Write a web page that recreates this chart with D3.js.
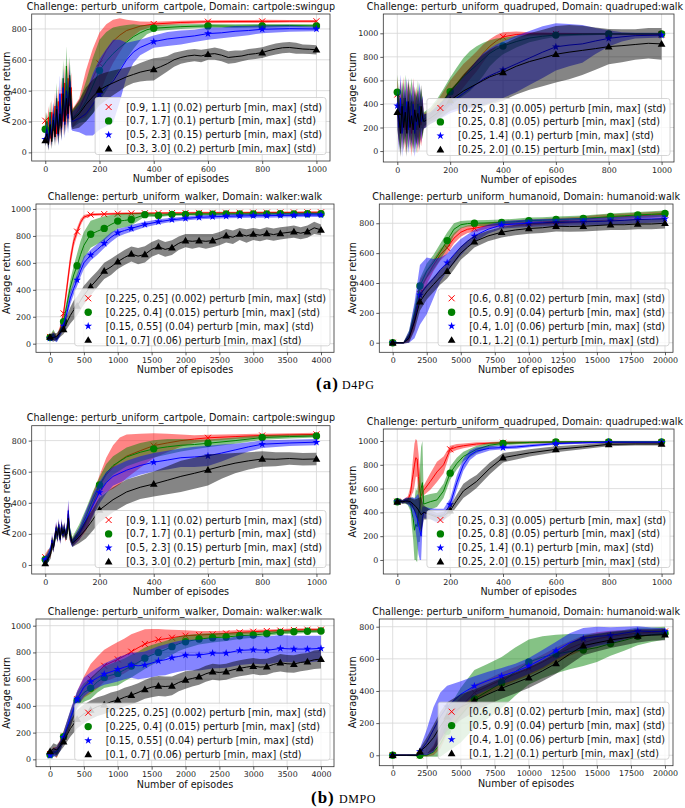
<!DOCTYPE html>
<html><head><meta charset="utf-8">
<script src="https://cdn.jsdelivr.net/npm/d3@7"></script>
<style>body{margin:0;background:#fff}</style>
</head><body><svg id="c" width="685" height="808" font-family="DejaVu Sans"></svg>
<script>
// ---------- tick labels / text ----------
const ticksX1000 = [0,200,400,600,800,1000];
const ticksX4000 = [0,500,1000,1500,2000,2500,3000,3500,4000];
const ticksX20000 = [0,2500,5000,7500,10000,12500,15000,17500,20000];
const ticksY800 = [0,200,400,600,800];
const ticksY1000 = [0,200,400,600,800,1000];
const titleCart = "Challenge: perturb_uniform_cartpole, Domain: cartpole:swingup";
const titleQuad = "Challenge: perturb_uniform_quadruped, Domain: quadruped:walk";
const titleWalker = "Challenge: perturb_uniform_walker, Domain: walker:walk";
const titleHum = "Challenge: perturb_uniform_humanoid, Domain: humanoid:walk";
const labelsCart = ["[0.9, 1.1] (0.02) perturb [min, max] (std)","[0.7, 1.7] (0.1) perturb [min, max] (std)","[0.5, 2.3] (0.15) perturb [min, max] (std)","[0.3, 3.0] (0.2) perturb [min, max] (std)"];
const labelsQuad = ["[0.25, 0.3] (0.005) perturb [min, max] (std)","[0.25, 0.8] (0.05) perturb [min, max] (std)","[0.25, 1.4] (0.1) perturb [min, max] (std)","[0.25, 2.0] (0.15) perturb [min, max] (std)"];
const labelsWalker = ["[0.225, 0.25] (0.002) perturb [min, max] (std)","[0.225, 0.4] (0.015) perturb [min, max] (std)","[0.15, 0.55] (0.04) perturb [min, max] (std)","[0.1, 0.7] (0.06) perturb [min, max] (std)"];
const labelsHum = ["[0.6, 0.8] (0.02) perturb [min, max] (std)","[0.5, 0.9] (0.04) perturb [min, max] (std)","[0.4, 1.0] (0.06) perturb [min, max] (std)","[0.1, 1.2] (0.1) perturb [min, max] (std)"];
const xLabel = "Number of episodes", yLabel = "Average return";
const captions = [["(a)","D4PG"],["(b)","DMPO"]];

// ---------- data: [episode, mean, std] ----------
// D4PG cartpole
const d4Cart_r = [[0,205,60],[6,110,50],[12,230,70],[18,90,50],[24,260,80],[30,140,60],[36,300,90],[42,120,60],[48,330,100],[54,170,80],[60,380,110],[66,200,90],[72,450,120],[78,240,100],[84,480,120],[90,300,110],[96,420,100],[100,220,60],[125,280,70],[150,380,150],[175,480,190],[200,577,200],[225,660,170],[250,720,140],[275,760,110],[300,790,70],[350,818,30],[400,832,15],[500,842,12],[600,847,10],[700,848,10],[800,849,10],[900,850,8],[1000,850,8]];
const d4Cart_g = [[0,150,50],[6,200,60],[12,100,50],[18,260,70],[24,110,60],[30,240,80],[36,150,70],[42,350,100],[48,130,70],[54,300,90],[60,200,80],[66,480,120],[72,230,100],[78,560,130],[84,280,110],[90,500,120],[96,300,100],[100,220,60],[125,260,70],[150,330,130],[175,430,180],[200,530,200],[225,590,190],[250,640,170],[275,680,140],[300,715,110],[325,750,80],[350,775,50],[375,795,30],[400,805,20],[500,815,15],[600,820,12],[700,818,12],[800,820,12],[900,822,10],[1000,820,10]];
const d4Cart_b = [[0,85,40],[6,150,60],[12,60,40],[18,200,70],[24,90,50],[30,250,80],[36,120,60],[42,300,100],[48,110,70],[54,380,120],[60,150,80],[66,420,120],[72,180,90],[78,400,120],[84,220,100],[90,460,120],[96,250,100],[100,200,60],[125,220,90],[150,250,140],[175,310,200],[200,376,230],[225,420,250],[250,460,270],[275,530,200],[300,600,110],[325,650,70],[350,680,50],[400,718,40],[450,735,45],[500,745,45],[550,755,40],[600,770,40],[650,775,35],[700,785,35],[750,790,30],[800,798,25],[900,802,20],[1000,800,15]];
const d4Cart_k = [[0,78,40],[6,120,50],[12,50,40],[18,180,60],[24,70,50],[30,210,70],[36,100,60],[42,280,90],[48,120,70],[54,250,90],[60,160,80],[66,380,110],[72,200,90],[78,350,110],[84,250,100],[90,420,110],[96,270,100],[100,210,60],[125,250,90],[150,310,110],[175,360,110],[200,405,100],[225,430,90],[250,450,80],[275,470,70],[300,490,60],[325,505,55],[350,520,60],[375,530,65],[400,538,72],[425,555,60],[450,575,50],[475,600,45],[500,615,40],[525,625,40],[550,630,40],[575,625,40],[600,636,35],[625,640,40],[650,630,40],[675,615,40],[700,620,40],[725,625,35],[750,635,35],[775,640,35],[800,647,35],[825,660,35],[850,670,35],[875,678,35],[900,680,35],[925,675,35],[950,670,30],[975,668,30],[1000,665,30]];
// D4PG quadruped
const d4Quad_r = [[0,480,150],[6,250,200],[12,420,180],[18,200,200],[24,450,180],[30,180,200],[36,400,200],[42,250,220],[48,380,200],[54,150,200],[60,420,200],[66,200,200],[72,350,200],[78,180,200],[84,330,200],[90,220,180],[96,300,150],[100,260,60],[125,300,50],[150,350,70],[175,420,90],[200,500,100],[225,570,100],[250,640,100],[275,700,90],[300,760,85],[325,830,75],[350,890,60],[375,935,50],[400,970,40],[450,990,25],[500,995,15],[600,995,10],[700,995,8],[800,995,8],[900,993,8],[1000,990,8]];
const d4Quad_g = [[0,500,150],[6,300,200],[12,200,200],[18,400,200],[24,250,200],[30,450,200],[36,200,200],[42,380,220],[48,280,200],[54,420,200],[60,220,200],[66,330,200],[72,180,200],[78,400,200],[84,250,200],[90,350,180],[96,250,150],[100,270,60],[125,310,60],[150,360,80],[175,430,100],[200,504,120],[225,570,140],[250,630,160],[275,680,170],[300,730,160],[325,780,140],[350,830,110],[375,865,90],[400,892,70],[450,930,50],[500,960,35],[550,975,25],[600,985,15],[700,992,10],[800,995,8],[900,995,8],[1000,995,8]];
const d4Quad_b = [[0,385,150],[6,200,200],[12,450,200],[18,150,200],[24,380,200],[30,250,200],[36,420,200],[42,180,200],[48,350,200],[54,230,200],[60,400,200],[66,150,200],[72,300,200],[78,220,200],[84,380,200],[90,250,180],[96,320,150],[100,250,60],[125,280,50],[150,320,60],[175,360,70],[200,410,90],[225,450,110],[250,490,140],[275,530,170],[300,570,200],[325,610,220],[350,640,230],[375,665,240],[400,690,240],[450,740,240],[500,790,230],[550,840,220],[600,885,200],[650,900,180],[700,910,160],[750,935,110],[800,957,70],[850,970,40],[900,980,25],[1000,985,20]];
const d4Quad_k = [[0,330,150],[6,280,200],[12,150,200],[18,380,200],[24,200,200],[30,330,200],[36,150,200],[42,420,200],[48,200,200],[54,300,200],[60,180,200],[66,350,200],[72,250,200],[78,320,200],[84,200,200],[90,380,180],[96,280,150],[100,250,60],[125,280,50],[150,320,60],[175,370,70],[200,430,90],[225,470,110],[250,510,140],[275,540,170],[300,570,200],[325,600,220],[350,630,230],[375,650,240],[400,668,240],[450,720,240],[500,760,240],[550,790,240],[600,822,240],[650,840,230],[700,855,210],[750,870,180],[800,887,150],[850,895,140],[900,905,130],[950,915,130],[1000,910,135]];
// D4PG walker
const d4Walk_r = [[0,50,15],[50,62,30],[100,40,20],[150,105,30],[200,225,40],[250,420,50],[300,620,50],[350,760,40],[400,832,30],[450,900,25],[500,940,15],[600,958,10],[800,962,8],[1000,965,8],[1200,967,8],[1400,968,8],[1600,969,8],[1800,970,8],[2000,970,8],[2200,971,8],[2400,971,8],[2600,972,8],[2800,972,8],[3000,973,8],[3200,973,8],[3400,974,8],[3600,974,8],[3800,975,8],[4000,975,8]];
const d4Walk_g = [[0,45,15],[50,70,35],[100,35,20],[150,90,30],[200,163,35],[250,290,45],[300,420,55],[350,510,70],[400,579,90],[450,660,100],[500,730,100],[600,812,100],[700,835,95],[800,856,90],[900,885,70],[1000,910,55],[1100,915,50],[1200,922,45],[1300,940,30],[1400,958,15],[1600,952,12],[1800,960,10],[2000,960,10],[2200,962,10],[2400,962,10],[2600,964,10],[2800,963,10],[3000,963,10],[3200,964,10],[3400,965,10],[3600,964,10],[3800,965,10],[4000,965,10]];
const d4Walk_b = [[0,40,15],[50,55,30],[100,30,20],[150,80,25],[200,131,30],[250,230,40],[300,340,45],[350,410,45],[400,473,45],[450,540,45],[500,600,45],[600,658,40],[700,700,40],[800,745,35],[900,790,35],[1000,824,30],[1100,840,25],[1200,856,25],[1400,885,20],[1600,905,18],[1800,920,15],[2000,930,15],[2200,938,15],[2400,942,15],[2600,946,15],[2800,948,15],[3000,950,15],[3200,950,15],[3400,952,15],[3600,953,15],[3800,955,15],[4000,955,15]];
const d4Walk_k = [[0,50,20],[50,45,30],[100,55,25],[150,80,30],[200,106,35],[250,160,50],[300,210,60],[350,250,70],[400,280,70],[450,320,70],[500,360,70],[600,423,65],[700,480,60],[800,540,60],[900,570,60],[1000,609,55],[1100,640,55],[1200,666,55],[1300,650,60],[1400,663,60],[1500,700,55],[1600,720,55],[1700,700,55],[1800,713,55],[1900,745,50],[2000,765,50],[2100,760,55],[2200,765,50],[2300,760,55],[2400,765,50],[2500,780,50],[2600,802,50],[2700,790,50],[2800,814,45],[2900,800,50],[3000,814,45],[3100,805,45],[3200,819,45],[3300,810,45],[3400,819,45],[3500,825,45],[3600,832,45],[3700,820,45],[3800,832,45],[3900,860,45],[4000,845,40]];
// D4PG humanoid
const d4Hum_r = [[0,0,5],[500,0,5],[800,0,5],[1200,40,30],[1600,150,60],[2000,360,60],[2500,440,50],[3000,520,40],[3500,590,40],[4000,635,40],[4500,700,35],[5000,740,30],[5500,760,25],[6000,766,25],[7000,785,20],[8000,795,20],[9000,800,20],[10000,805,20],[11000,810,20],[12000,815,20],[13000,820,20],[14000,825,20],[15000,835,20],[16000,840,20],[17000,845,20],[18000,850,20],[19000,855,20],[20000,860,20]];
const d4Hum_g = [[0,0,5],[500,0,5],[800,0,5],[1200,50,30],[1600,200,50],[2000,380,50],[2500,480,50],[3000,540,50],[3500,610,55],[4000,684,55],[4500,760,40],[5000,790,25],[5500,798,20],[6000,800,20],[7000,802,20],[8000,805,20],[9000,810,20],[10000,818,20],[11000,820,20],[12000,825,20],[13000,828,20],[14000,832,20],[15000,838,20],[16000,845,20],[17000,850,20],[18000,856,20],[19000,860,20],[20000,865,20]];
const d4Hum_b = [[0,0,5],[500,0,5],[800,0,5],[1200,40,40],[1600,150,120],[2000,320,200],[2500,380,190],[3000,430,130],[3500,490,80],[4000,536,60],[4500,590,60],[5000,640,55],[5500,680,45],[6000,715,40],[7000,760,30],[8000,789,25],[9000,795,25],[10000,800,25],[11000,803,25],[12000,805,25],[13000,808,25],[14000,810,25],[15000,812,25],[16000,815,25],[17000,820,25],[18000,825,25],[19000,828,25],[20000,830,25]];
const d4Hum_k = [[0,0,5],[500,0,5],[800,0,5],[1200,30,30],[1600,140,60],[2000,275,60],[2500,340,50],[3000,390,50],[3500,440,50],[4000,480,50],[4500,540,50],[5000,600,45],[5500,640,45],[6000,677,40],[7000,715,35],[8000,740,35],[9000,755,35],[10000,765,35],[11000,770,35],[12000,780,35],[13000,778,35],[14000,780,35],[15000,785,35],[16000,790,35],[17000,790,35],[18000,795,35],[19000,795,35],[20000,800,35]];
// DMPO cartpole
const dmCart_r = [[0,50,20],[10,70,30],[20,80,30],[25,150,40],[30,120,30],[40,230,40],[45,190,40],[50,250,40],[55,170,30],[60,250,40],[65,200,30],[70,230,40],[75,180,30],[80,220,40],[85,330,70],[90,200,40],[95,170,30],[100,145,25],[125,200,40],[150,280,60],[175,390,70],[200,505,70],[225,580,110],[250,630,140],[275,670,150],[300,700,140],[350,735,110],[400,768,80],[450,785,60],[500,800,40],[550,810,25],[600,818,20],[700,826,15],[800,833,12],[900,837,10],[1000,840,10]];
const dmCart_g = [[0,35,20],[10,60,30],[20,90,30],[25,140,40],[30,130,30],[40,210,40],[45,200,40],[50,240,40],[55,180,30],[60,240,40],[65,210,30],[70,220,40],[75,200,30],[80,210,40],[85,300,60],[90,210,40],[95,180,40],[100,150,30],[125,220,40],[150,310,50],[175,420,50],[200,515,50],[225,590,60],[250,640,60],[300,695,60],[350,725,60],[400,747,55],[450,760,50],[500,770,40],[550,775,30],[600,783,25],[700,800,20],[800,820,15],[900,826,12],[1000,830,10]];
const dmCart_b = [[0,35,20],[10,50,30],[20,100,30],[25,160,40],[30,110,30],[40,240,40],[45,180,40],[50,260,40],[55,160,30],[60,260,40],[65,190,30],[70,240,40],[75,190,30],[80,230,40],[85,350,70],[90,220,40],[95,160,30],[100,140,25],[125,200,40],[150,290,60],[175,380,70],[200,466,70],[225,530,70],[250,570,60],[300,610,60],[350,640,60],[400,661,60],[450,675,60],[500,690,60],[550,695,65],[600,702,65],[650,720,55],[700,740,40],[750,760,30],[800,777,25],[900,785,20],[1000,790,20]];
const dmCart_k = [[0,10,15],[10,40,25],[20,70,30],[25,140,40],[30,110,30],[40,220,40],[45,190,40],[50,240,40],[55,170,30],[60,240,40],[65,200,30],[70,230,40],[75,190,30],[80,200,40],[85,300,60],[90,200,40],[95,170,30],[100,140,25],[125,180,40],[150,230,60],[175,290,70],[200,354,80],[250,420,80],[300,470,80],[350,500,75],[400,521,80],[450,545,90],[500,570,100],[550,590,100],[600,612,100],[650,635,80],[700,655,65],[750,670,55],[800,682,50],[850,680,45],[900,685,40],[950,680,40],[1000,682,40]];
// DMPO quadruped
const dmQuad_r = [[0,490,15],[10,495,15],[20,490,15],[30,500,20],[40,505,30],[50,560,60],[55,650,100],[60,720,150],[65,800,180],[70,860,160],[75,850,150],[80,700,200],[85,580,200],[90,540,80],[100,585,40],[125,660,70],[150,740,85],[175,800,70],[200,930,30],[225,950,25],[250,960,20],[300,975,15],[350,982,10],[400,985,10],[500,988,8],[600,990,8],[700,990,8],[800,990,8],[900,990,8],[1000,990,8]];
const dmQuad_g = [[0,490,15],[10,495,15],[20,490,15],[30,495,20],[40,490,30],[50,470,60],[55,400,120],[60,350,180],[65,250,250],[70,300,300],[75,280,300],[80,400,250],[85,450,300],[90,600,350],[95,650,350],[100,470,70],[125,490,65],[150,505,60],[175,580,60],[200,730,55],[225,810,50],[250,870,40],[300,930,30],[350,965,20],[400,980,15],[500,988,10],[600,992,8],[700,993,8],[800,993,8],[900,993,8],[1000,993,8]];
const dmQuad_b = [[0,490,15],[10,495,15],[20,490,15],[30,500,20],[40,495,30],[50,480,40],[55,470,60],[60,440,80],[65,420,100],[70,380,150],[75,350,200],[80,300,250],[85,250,250],[90,200,200],[95,350,100],[100,400,50],[125,390,45],[150,370,60],[175,380,50],[200,466,50],[225,650,60],[250,800,50],[275,880,40],[300,915,30],[350,940,20],[400,945,15],[450,950,15],[500,960,12],[600,978,10],[700,985,8],[800,990,8],[900,990,8],[1000,990,8]];
const dmQuad_k = [[0,490,15],[10,495,15],[20,490,15],[30,495,20],[40,495,25],[50,490,30],[60,470,40],[70,450,60],[80,420,100],[90,380,150],[100,400,60],[125,380,40],[150,360,35],[175,370,35],[200,414,40],[225,500,50],[250,580,60],[275,620,60],[300,660,55],[350,770,50],[400,860,40],[450,880,35],[500,900,30],[600,930,25],[700,950,20],[800,972,15],[900,975,12],[1000,975,12]];
// DMPO walker
const dmWalk_r = [[0,40,15],[50,60,30],[100,50,40],[150,110,40],[200,170,40],[300,300,60],[400,450,60],[500,540,80],[600,603,110],[700,650,120],[800,700,120],[900,725,125],[1000,748,130],[1100,775,130],[1200,805,130],[1300,835,120],[1400,863,110],[1500,880,95],[1600,895,80],[1700,902,70],[1800,910,60],[1900,918,50],[2000,925,40],[2200,930,30],[2400,935,25],[2600,942,20],[2800,950,18],[3000,955,15],[3200,960,12],[3400,963,12],[3600,968,10],[3800,970,10],[4000,970,10]];
const dmWalk_g = [[0,35,15],[50,55,25],[100,45,30],[150,100,35],[200,170,40],[300,300,60],[400,440,60],[500,500,70],[600,531,80],[700,580,80],[800,613,80],[900,630,85],[1000,643,90],[1100,670,85],[1200,698,85],[1300,725,80],[1400,756,80],[1500,780,75],[1600,800,70],[1700,820,65],[1800,843,60],[1900,865,55],[2000,880,50],[2200,900,40],[2400,910,35],[2600,915,30],[2800,925,25],[3000,930,20],[3200,940,18],[3400,950,15],[3600,955,15],[3800,958,12],[4000,960,12]];
const dmWalk_b = [[0,30,15],[50,50,30],[100,60,35],[150,100,40],[200,165,40],[300,310,60],[400,451,60],[500,540,70],[600,581,70],[700,610,75],[800,638,80],[900,655,85],[1000,673,90],[1100,690,90],[1200,705,95],[1300,700,100],[1400,706,100],[1500,720,105],[1600,736,110],[1700,745,115],[1800,760,115],[1900,770,115],[2000,780,115],[2200,780,115],[2400,795,115],[2600,795,110],[2800,815,110],[3000,820,105],[3200,815,105],[3400,830,100],[3600,825,100],[3800,825,100],[4000,830,95]];
const dmWalk_k = [[0,60,25],[50,80,40],[100,70,40],[150,100,40],[200,132,40],[300,230,60],[400,300,70],[500,340,70],[600,370,70],[700,395,70],[800,410,70],[900,430,70],[1000,444,70],[1100,465,70],[1200,481,70],[1300,500,70],[1400,524,70],[1500,540,75],[1600,549,75],[1700,545,75],[1800,549,70],[1900,575,65],[2000,594,65],[2100,605,60],[2200,618,60],[2300,640,60],[2400,656,60],[2500,650,60],[2600,656,60],[2700,670,60],[2800,681,60],[2900,690,60],[3000,698,60],[3100,690,60],[3200,693,60],[3300,710,60],[3400,723,65],[3500,715,65],[3600,713,65],[3700,725,65],[3800,731,65],[3900,745,70],[4000,750,70]];
// DMPO humanoid
const dmHum_r = [[0,0,5],[1000,0,5],[2000,0,5],[2500,0,8],[3000,30,30],[3500,100,60],[4000,200,70],[5000,300,60],[6000,390,50],[7000,430,45],[8000,470,45],[9000,505,45],[10000,540,45],[11000,580,45],[12000,625,45],[13000,665,45],[14000,700,45],[15000,725,40],[16000,740,35],[17000,750,30],[18000,760,25],[19000,765,20],[20000,770,20]];
const dmHum_g = [[0,0,5],[1000,0,5],[2000,0,8],[2500,0,10],[3000,20,30],[3500,70,80],[4000,150,130],[5000,250,170],[6000,350,180],[7000,400,170],[8000,452,160],[9000,520,150],[10000,580,140],[11000,610,130],[12000,630,120],[13000,645,110],[14000,655,100],[15000,670,90],[16000,695,75],[17000,715,65],[18000,740,55],[19000,750,45],[20000,760,40]];
const dmHum_b = [[0,0,5],[1000,0,5],[1800,0,5],[2000,23,20],[2500,80,80],[3000,160,140],[3500,240,150],[4000,302,130],[5000,380,80],[6000,431,60],[7000,465,55],[8000,493,50],[9000,520,50],[10000,555,50],[11000,600,55],[12000,651,55],[13000,700,60],[14000,727,65],[15000,740,60],[16000,746,50],[17000,760,40],[18000,773,30],[19000,770,25],[20000,770,20]];
const dmHum_k = [[0,0,5],[1000,0,5],[1800,0,5],[2000,23,20],[2500,60,50],[3000,110,80],[3500,180,90],[4000,240,90],[5000,300,80],[6000,340,70],[7000,380,65],[8000,417,65],[9000,450,65],[10000,483,65],[11000,525,65],[12000,572,65],[13000,630,65],[14000,682,60],[15000,700,55],[16000,717,50],[17000,730,45],[18000,742,40],[19000,748,35],[20000,750,35]];

// ---------- styling ----------
const colors = ["#ff0000","#008000","#0000ff","#000000"];
const markerKinds = ["x","o","star","tri"];

const panels = [
 {f:[31.7,14,330,161], xd:[-50,1050], yd:[-56,897], xt:ticksX1000, yt:ticksY800, title:titleCart, labels:labelsCart, s:[d4Cart_r,d4Cart_g,d4Cart_b,d4Cart_k], every:200},
 {f:[383.3,14,674,162], xd:[-53,1047], yd:[-93,1164], xt:ticksX1000, yt:ticksY1000, title:titleQuad, labels:labelsQuad, s:[d4Quad_r,d4Quad_g,d4Quad_b,d4Quad_k], every:200},
 {f:[36,204,334,352.3], xd:[-207,4192], yd:[-64,1037], xt:ticksX4000, yt:ticksY1000, title:titleWalker, labels:labelsWalker, s:[d4Walk_r,d4Walk_g,d4Walk_b,d4Walk_k], every:200},
 {f:[379.3,204,673,352.3], xd:[-984,20588], yd:[-64,929], xt:ticksX20000, yt:ticksY800, title:titleHum, labels:labelsHum, s:[d4Hum_r,d4Hum_g,d4Hum_b,d4Hum_k], every:2000},
 {f:[31.7,425.7,330,574], xd:[-50,1050], yd:[-58,896], xt:ticksX1000, yt:ticksY800, title:titleCart, labels:labelsCart, s:[dmCart_r,dmCart_g,dmCart_b,dmCart_k], every:200},
 {f:[383.3,429,674,574], xd:[-53,1047], yd:[-118,1101], xt:ticksX1000, yt:ticksY1000, title:titleQuad, labels:labelsQuad, s:[dmQuad_r,dmQuad_g,dmQuad_b,dmQuad_k], every:200},
 {f:[36,619,334,766.7], xd:[-207,4192], yd:[-55,1050], xt:ticksX4000, yt:ticksY1000, title:titleWalker, labels:labelsWalker, s:[dmWalk_r,dmWalk_g,dmWalk_b,dmWalk_k], every:200},
 {f:[379.3,619,673,765.7], xd:[-984,20588], yd:[-65,848], xt:ticksX20000, yt:ticksY800, title:titleHum, labels:labelsHum, s:[dmHum_r,dmHum_g,dmHum_b,dmHum_k], every:2000}
];

const svg = d3.select("#c");
svg.append("rect").attr("width",685).attr("height",808).attr("fill","#fff");

function drawMarker(g, kind, color, x, y) {
  if (kind === "x") {
    g.append("path").attr("d", `M${x-3},${y-3}L${x+3},${y+3}M${x-3},${y+3}L${x+3},${y-3}`)
      .attr("stroke", color).attr("stroke-width", 1).attr("fill","none");
  } else if (kind === "o") {
    g.append("circle").attr("cx", x).attr("cy", y).attr("r", 3.7).attr("fill", color);
  } else if (kind === "star") {
    g.append("path").attr("d", d3.symbol(d3.symbolStar, 19)()).attr("transform", `translate(${x},${y})`).attr("fill", color);
  } else {
    g.append("path").attr("d", d3.symbol(d3.symbolTriangle, 26)()).attr("transform", `translate(${x},${y+0.6})`).attr("fill", color);
  }
}

panels.forEach((p, i) => {
  const [x0, y0, x1, y1] = p.f;
  const x = d3.scaleLinear().domain(p.xd).range([x0, x1]);
  const y = d3.scaleLinear().domain(p.yd).range([y1, y0]);
  const g = svg.append("g");
  const cid = "clip" + i;
  svg.append("clipPath").attr("id", cid).append("rect").attr("x", x0).attr("y", y0).attr("width", x1 - x0).attr("height", y1 - y0);

  // grid
  const grid = g.append("g").attr("stroke", "#d6d6d6").attr("stroke-width", 0.8);
  p.xt.forEach(t => grid.append("line").attr("x1", x(t)).attr("x2", x(t)).attr("y1", y0).attr("y2", y1));
  p.yt.forEach(t => grid.append("line").attr("x1", x0).attr("x2", x1).attr("y1", y(t)).attr("y2", y(t)));

  // series
  const plot = g.append("g").attr("clip-path", `url(#${cid})`);
  p.s.forEach((data, k) => {
    const area = d3.area().x(d => x(d[0])).y0(d => y(d[1] - d[2])).y1(d => y(d[1] + d[2]));
    const line = d3.line().x(d => x(d[0])).y(d => y(d[1]));
    plot.append("path").attr("d", area(data)).attr("fill", colors[k]).attr("fill-opacity", 0.48);
    plot.append("path").attr("d", line(data)).attr("fill", "none").attr("stroke", colors[k]).attr("stroke-width", 1);
    data.filter(d => d[0] % p.every === 0).forEach(d => drawMarker(plot, markerKinds[k], colors[k], x(d[0]), y(d[1])));
  });

  // frame
  g.append("rect").attr("x", x0).attr("y", y0).attr("width", x1 - x0).attr("height", y1 - y0)
    .attr("fill", "none").attr("stroke", "#333").attr("stroke-width", 0.8);

  // axes
  const xa = g.append("g").attr("transform", `translate(0,${y1})`)
    .call(d3.axisBottom(x).tickValues(p.xt).tickSize(3).tickPadding(2).tickFormat(d3.format("d")));
  const ya = g.append("g").attr("transform", `translate(${x0},0)`)
    .call(d3.axisLeft(y).tickValues(p.yt).tickSize(3).tickPadding(2).tickFormat(d3.format("d")));
  [xa, ya].forEach(a => {
    a.select(".domain").remove();
    a.selectAll("line").attr("stroke", "#333").attr("stroke-width", 0.8);
    a.selectAll("text").attr("font-size", "7.9px").attr("fill", "#222").attr("font-family", "DejaVu Sans");
  });

  // title (kept inside the page) and labels
  const tt = g.append("text").attr("x", (x0 + x1) / 2).attr("y", y0 - 4.5).attr("text-anchor", "middle")
    .attr("font-size", "9.6px").attr("fill", "#111").text(p.title);
  const ttw = tt.node().getComputedTextLength();
  if ((x0 + x1) / 2 + ttw / 2 > 683) tt.attr("text-anchor", "end").attr("x", 683);
  g.append("text").attr("x", (x0 + x1) / 2).attr("y", y1 + 21).attr("text-anchor", "middle")
    .attr("font-size", "9.6px").attr("fill", "#111").text(xLabel);
  const ylx = (i % 2 === 0) ? 7 : 352.7;
  g.append("text").attr("transform", `translate(${ylx + 3.4},${(y0 + y1) / 2}) rotate(-90)`).attr("text-anchor", "middle")
    .attr("font-size", "9.6px").attr("fill", "#111").text(yLabel);

  // legend
  const lg = g.append("g");
  const widths = p.labels.map(l => {
    const t = lg.append("text").attr("font-size", "9.6px").text(l);
    const w = t.node().getComputedTextLength(); t.remove(); return w;
  });
  const tw = d3.max(widths);
  const bw = 31 + tw + 4, bh = 57;
  const bx = x1 - 4 - bw, by = y1 - 6.5 - bh;
  lg.append("rect").attr("x", bx).attr("y", by).attr("width", bw).attr("height", bh).attr("rx", 2.5)
    .attr("fill", "#fff").attr("fill-opacity", 0.8).attr("stroke", "#cccccc").attr("stroke-width", 0.8);
  p.labels.forEach((l, k) => {
    const ry = by + 9.5 + k * 13.9;
    drawMarker(lg, markerKinds[k], colors[k], bx + 13.5, ry);
    lg.append("text").attr("x", bx + 31).attr("y", ry + 3.5).attr("font-size", "9.6px").attr("fill", "#111").text(l);
  });
});

// captions
function caption(c, x, x2, yb) {
  const t = svg.append("text").attr("y", yb).style("font-family", "'Liberation Serif', serif").attr("fill", "#000");
  t.append("tspan").attr("x", x).style("font-weight", "bold").style("font-size", "17px").style("letter-spacing", "1px").text(c[0]);
  t.append("tspan").attr("x", x2).style("font-size", "12px").style("letter-spacing", "0.6px").text(c[1]);
}
caption(captions[0], 316, 342, 388.5);
caption(captions[1], 311, 339, 802.5);
</script>
</body></html>
